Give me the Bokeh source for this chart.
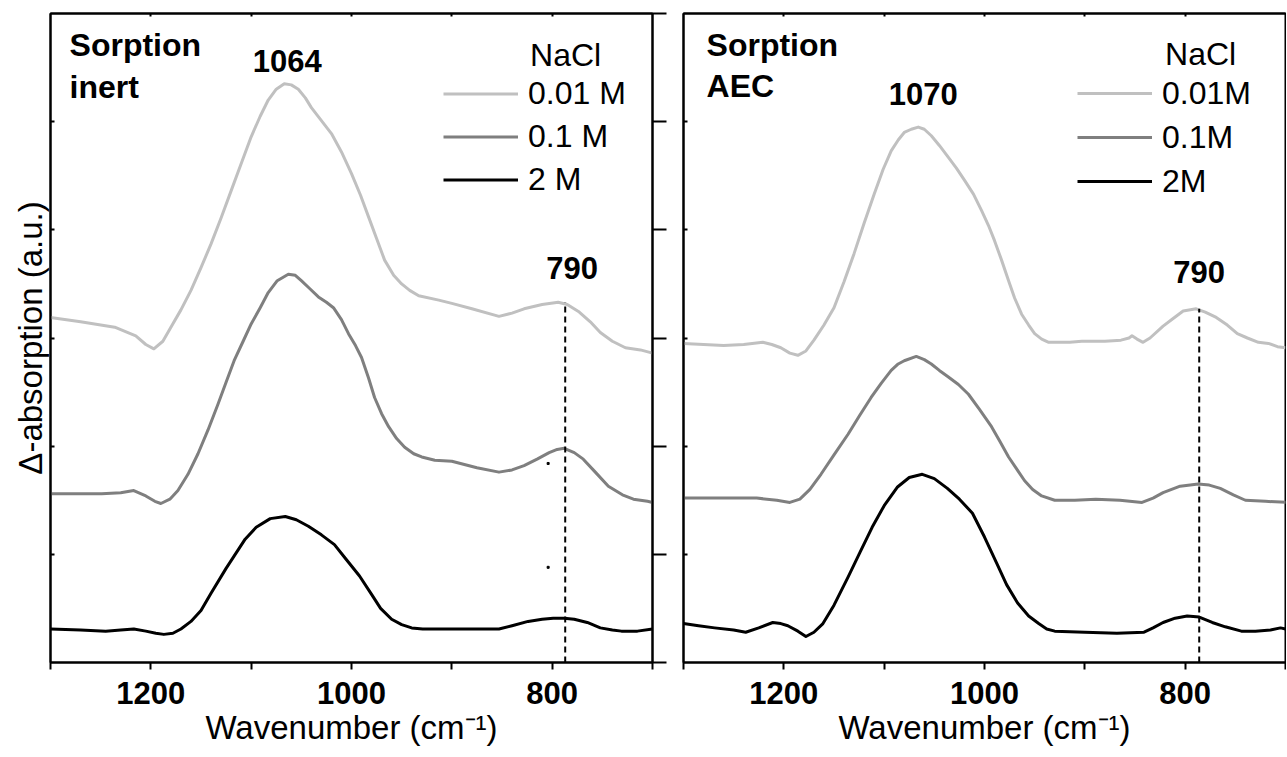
from bokeh.plotting import figure
from bokeh.models import (LinearAxis, FixedTicker, Range1d, Label, Legend, LegendItem)
from bokeh.layouts import row
from bokeh.embed import file_html
from bokeh.resources import INLINE

# ---------------- data ----------------
# Panel 1: Sorption inert
inert_wn_001 = [1300, 1270, 1236, 1215, 1205, 1197, 1188, 1180, 1170, 1160, 1150, 1140, 1130, 1120,
                1110, 1100, 1091, 1083, 1075, 1067, 1060, 1053, 1046, 1040, 1030, 1020, 1010, 1000,
                991, 983, 975, 967, 958, 950, 942, 933, 913, 900, 880, 853, 840, 828, 810, 794, 785,
                773, 762, 752, 740, 727, 712, 700]
inert_abs_001 = [3.19, 3.15, 3.10, 3.02, 2.94, 2.90, 2.97, 3.10, 3.26, 3.44, 3.65, 3.87, 4.11, 4.36,
                 4.61, 4.86, 5.05, 5.20, 5.30, 5.35, 5.34, 5.30, 5.22, 5.13, 5.01, 4.89, 4.72, 4.52,
                 4.32, 4.12, 3.92, 3.72, 3.58, 3.50, 3.44, 3.39, 3.35, 3.32, 3.27, 3.20, 3.23, 3.27,
                 3.31, 3.33, 3.31, 3.24, 3.15, 3.05, 2.97, 2.91, 2.89, 2.86]

inert_wn_01 = [1300, 1270, 1249, 1230, 1217, 1205, 1196, 1190, 1181, 1173, 1163, 1153, 1143, 1133,
               1125, 1117, 1108, 1100, 1091, 1083, 1074, 1063, 1056, 1050, 1042, 1033, 1025, 1018,
               1010, 1003, 996, 990, 983, 977, 970, 963, 955, 947, 938, 930, 917, 900, 875, 853, 840,
               828, 815, 803, 795, 788, 778, 769, 757, 744, 730, 719, 705, 700]
inert_abs_01 = [1.56, 1.56, 1.56, 1.57, 1.59, 1.54, 1.49, 1.47, 1.51, 1.59, 1.74, 1.93, 2.15, 2.39,
                2.59, 2.79, 2.97, 3.13, 3.28, 3.42, 3.53, 3.59, 3.58, 3.53, 3.46, 3.38, 3.33, 3.28,
                3.17, 3.04, 2.93, 2.82, 2.63, 2.45, 2.30, 2.18, 2.07, 1.99, 1.93, 1.90, 1.87, 1.86,
                1.80, 1.76, 1.78, 1.82, 1.88, 1.94, 1.97, 1.98, 1.94, 1.88, 1.76, 1.63, 1.55, 1.51,
                1.49, 1.48]

inert_wn_2 = [1300, 1270, 1245, 1230, 1217, 1205, 1195, 1187, 1178, 1170, 1160, 1150, 1140, 1125,
              1106, 1095, 1081, 1066, 1055, 1043, 1030, 1017, 1005, 992, 980, 971, 960, 950, 940,
              929, 900, 880, 853, 840, 824, 810, 799, 788, 778, 765, 752, 740, 731, 715, 700]
inert_abs_2 = [0.31, 0.30, 0.29, 0.30, 0.31, 0.29, 0.27, 0.26, 0.27, 0.31, 0.38, 0.48, 0.64, 0.87,
               1.14, 1.25, 1.33, 1.35, 1.32, 1.26, 1.18, 1.09, 0.95, 0.80, 0.63, 0.50, 0.40, 0.35, 0.32,
               0.31, 0.31, 0.31, 0.31, 0.34, 0.38, 0.40, 0.41, 0.41, 0.40, 0.37, 0.32, 0.30, 0.29, 0.29, 0.31]

# Panel 2: Sorption AEC
aec_wn_001 = [1300, 1280, 1260, 1240, 1221, 1212, 1203, 1194, 1186, 1178, 1170, 1160, 1150, 1140,
              1130, 1120, 1110, 1101, 1093, 1086, 1080, 1073, 1066, 1060, 1053, 1045, 1036, 1028,
              1020, 1011, 1003, 996, 990, 983, 976, 970, 963, 956, 950, 943, 936, 915, 903, 880,
              864, 856, 853, 848, 842, 835, 822, 812, 802, 789, 780, 769, 758, 748, 738, 727, 717,
              708, 700]
aec_abs_001 = [2.95, 2.94, 2.93, 2.94, 2.96, 2.94, 2.91, 2.86, 2.84, 2.88, 2.98, 3.12, 3.28, 3.52,
               3.78, 4.06, 4.33, 4.56, 4.73, 4.83, 4.90, 4.93, 4.95, 4.93, 4.87, 4.78, 4.67, 4.57,
               4.46, 4.33, 4.18, 4.04, 3.90, 3.72, 3.53, 3.37, 3.22, 3.12, 3.04, 2.99, 2.96, 2.96,
               2.97, 2.97, 2.98, 3.00, 3.02, 2.99, 2.96, 3.00, 3.11, 3.18, 3.25, 3.27, 3.24, 3.19,
               3.12, 3.04, 3.00, 2.96, 2.95, 2.92, 2.91]

aec_wn_01 = [1300, 1260, 1227, 1207, 1194, 1184, 1174, 1163, 1150, 1136, 1124, 1113, 1103, 1093,
             1086, 1080, 1068, 1060, 1053, 1045, 1036, 1026, 1016, 1005, 993, 985, 976, 968, 960,
             952, 943, 930, 910, 889, 865, 843, 832, 822, 805, 787, 776, 765, 752, 740, 720, 698]
aec_abs_01 = [1.52, 1.52, 1.52, 1.50, 1.48, 1.51, 1.60, 1.74, 1.92, 2.11, 2.29, 2.45, 2.58, 2.70,
              2.76, 2.79, 2.83, 2.80, 2.76, 2.70, 2.64, 2.57, 2.48, 2.34, 2.18, 2.05, 1.90, 1.79,
              1.68, 1.60, 1.54, 1.50, 1.50, 1.51, 1.50, 1.48, 1.52, 1.57, 1.63, 1.65, 1.64, 1.61,
              1.55, 1.50, 1.49, 1.48]

aec_wn_2 = [1300, 1285, 1269, 1250, 1238, 1225, 1211, 1203, 1196, 1186, 1178, 1170, 1161, 1150,
            1136, 1124, 1112, 1100, 1087, 1075, 1062, 1050, 1037, 1025, 1012, 1000, 988, 978, 967,
            956, 946, 938, 930, 900, 868, 841, 832, 822, 810, 798, 786, 773, 760, 744, 730, 715,
            705, 700]
aec_abs_2 = [0.36, 0.34, 0.32, 0.30, 0.28, 0.32, 0.37, 0.36, 0.34, 0.29, 0.24, 0.28, 0.36, 0.53,
             0.79, 1.02, 1.25, 1.45, 1.62, 1.71, 1.74, 1.70, 1.61, 1.51, 1.38, 1.16, 0.92, 0.72, 0.55,
             0.43, 0.36, 0.31, 0.29, 0.28, 0.27, 0.28, 0.32, 0.37, 0.41, 0.43, 0.42, 0.37, 0.33, 0.29,
             0.29, 0.30, 0.32, 0.31]

# dashed markers at the 790 band
inert_marker_wn = [787]
inert_marker_top = [3.33]
aec_marker_wn = [786]
aec_marker_top = [3.27]

# small stray dots in the inert panel
inert_dot_wn = [804, 804]
inert_dot_abs = [1.84, 0.88]

legend_labels_inert = ["0.01 M", "0.1 M", "2 M"]
legend_labels_aec = ["0.01M", "0.1M", "2M"]

x_ticks = [700, 800, 900, 1000, 1100, 1200, 1300]
x_labeled = [800, 1000, 1200]
y_ticks = [0, 1, 2, 3, 4, 5, 6]

# ---------------- styling ----------------
FONT = "Liberation Sans"
COLORS = ["#c0c0c0", "#7f7f7f", "#000000"]
HEIGHT = 756
FRAME_H = 649


def blank_overrides(ticks):
    return {t: "" for t in ticks}


def add_label(p, x, y, text, size, bold, align):
    p.add_layout(Label(x=x, y=y, text=text, text_font=FONT,
                       text_font_style="bold" if bold else "normal",
                       text_font_size=size, text_color="black",
                       text_align=align, text_baseline="middle"))


def make_panel(width, bl, br, ylabel, series, labels, markers, title_lines,
               peak_text, peak_pos, band_pos, nacl_pos, legend_xy, row_h):
    p = figure(width=width, height=HEIGHT, x_range=Range1d(1300, 700),
               y_range=Range1d(0, 6), output_backend="svg", toolbar_location=None,
               min_border_left=bl, min_border_right=br, min_border_top=13,
               min_border_bottom=HEIGHT - 13 - FRAME_H)
    p.grid.visible = False
    p.outline_line_color = "black"
    p.outline_line_width = 2
    p.background_fill_color = "white"
    p.border_fill_color = "white"

    # bottom axis
    xa = p.below[0]
    xa.ticker = FixedTicker(ticks=x_ticks)
    xa.major_label_overrides = {t: "" for t in x_ticks if t not in x_labeled}
    xa.major_tick_out = 7
    xa.major_tick_in = 0
    xa.minor_tick_line_color = None
    xa.axis_line_width = 2
    xa.major_tick_line_width = 2
    xa.major_label_text_font = FONT
    xa.major_label_text_font_style = "bold"
    xa.major_label_text_font_size = "31px"
    xa.major_label_text_color = "black"
    xa.major_label_standoff = 12
    xa.axis_label = "Wavenumber (cm\u207b\u00b9)"
    xa.axis_label_text_font = FONT
    xa.axis_label_text_font_style = "normal"
    xa.axis_label_text_font_size = "33px"
    xa.axis_label_text_color = "black"
    xa.axis_label_standoff = 2

    # left axis
    ya = p.left[0]
    ya.ticker = FixedTicker(ticks=y_ticks[1:-1])
    ya.major_label_overrides = blank_overrides(y_ticks)
    ya.major_label_text_font_size = "0px"
    ya.major_label_standoff = 0
    ya.major_tick_in = 4
    ya.major_tick_out = 0
    ya.minor_tick_line_color = None
    ya.axis_line_width = 2
    ya.major_tick_line_width = 2
    if ylabel:
        ya.axis_label = ylabel
        ya.axis_label_text_font = FONT
        ya.axis_label_text_font_style = "normal"
        ya.axis_label_text_font_size = "33px"
        ya.axis_label_text_color = "black"
        ya.axis_label_standoff = 2

    # top axis with small inward ticks
    ta = LinearAxis(ticker=FixedTicker(ticks=x_ticks[1:-1]),
                    major_label_overrides=blank_overrides(x_ticks),
                    major_label_text_font_size="0px", major_label_standoff=0,
                    major_tick_in=3, major_tick_out=0, minor_tick_line_color=None,
                    axis_line_width=2, major_tick_line_width=2)
    p.add_layout(ta, "above")

    renderers = []
    for (wn, ab), c in zip(series, COLORS):
        r = p.line(wn, ab, line_color=c, line_width=3, line_join="round")
        renderers.append(r)

    mk_wn, mk_top = markers
    p.segment(x0=mk_wn, y0=[0] * len(mk_wn), x1=mk_wn, y1=mk_top,
              line_color="black", line_width=2, line_dash="6 4")

    for txt, (x, y) in title_lines:
        add_label(p, x, y, txt, "32px", True, "left")
    add_label(p, peak_pos[0], peak_pos[1], peak_text, "31px", True, "center")
    add_label(p, band_pos[0], band_pos[1], "790", "31px", True, "center")
    add_label(p, nacl_pos[0], nacl_pos[1], "NaCl", "32px", False, "left")

    leg = Legend(items=[LegendItem(label=l, renderers=[r]) for l, r in zip(labels, renderers)],
                 location=legend_xy, padding=0, margin=0, spacing=0,
                 glyph_width=75, glyph_height=row_h, label_height=row_h, label_standoff=10,
                 label_text_font=FONT, label_text_font_size="32px",
                 label_text_color="black", border_line_color=None,
                 background_fill_alpha=0)
    p.add_layout(leg)
    return p


p1 = make_panel(668, 50, 16, "\u0394-absorption (a.u.)",
                [(inert_wn_001, inert_abs_001), (inert_wn_01, inert_abs_01), (inert_wn_2, inert_abs_2)],
                legend_labels_inert, (inert_marker_wn, inert_marker_top),
                [("Sorption", (1281, 5.71)), ("inert", (1281, 5.32))],
                "1064", (1064, 5.56), (780, 3.65), (822, 5.62), (393, 461), 43)
p1.scatter(inert_dot_wn, inert_dot_abs, marker="square", size=2, color="black")

# right axis of the first panel with outward ticks
ra = LinearAxis(ticker=FixedTicker(ticks=y_ticks), major_label_overrides=blank_overrides(y_ticks),
                major_label_text_font_size="0px", major_label_standoff=0,
                major_tick_in=0, major_tick_out=14, minor_tick_line_color=None,
                axis_line_width=2, major_tick_line_width=2)
p1.add_layout(ra, "right")

p2 = make_panel(618, 15, 1, None,
                [(aec_wn_001, aec_abs_001), (aec_wn_01, aec_abs_01), (aec_wn_2, aec_abs_2)],
                legend_labels_aec, (aec_marker_wn, aec_marker_top),
                [("Sorption", (1277, 5.71)), ("AEC", (1277, 5.33))],
                "1070", (1061, 5.26), (786, 3.61), (820, 5.63), (394, 459), 44)

layout = row(p1, p2)
open("out.html", "w").write(file_html(layout, INLINE))
